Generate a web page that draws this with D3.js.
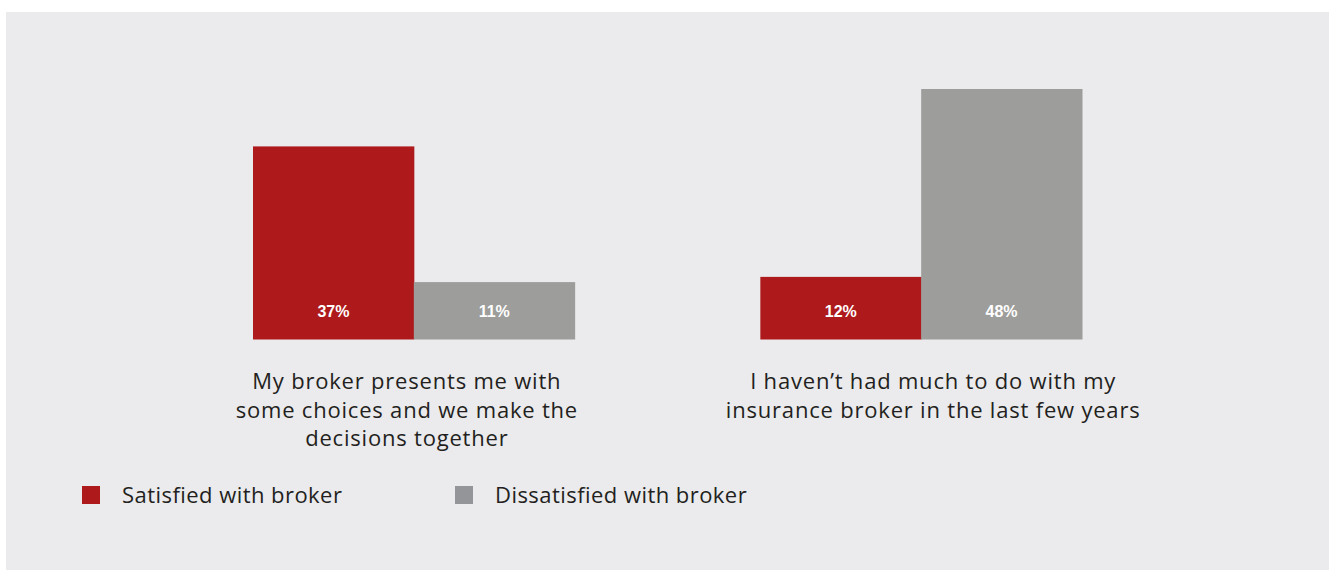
<!DOCTYPE html>
<html>
<head>
<meta charset="utf-8">
<script src="https://cdn.jsdelivr.net/npm/d3@7"></script>
<style>
  html, body { margin: 0; padding: 0; background: #ffffff; }
  svg { display: block; }
</style>
</head>
<body>
<svg id="chart" width="1332" height="570"></svg>
<script>
// Survey statements and the share of each respondent group agreeing
const categories = [
  ["My broker presents me with", "some choices and we make the", "decisions together"],
  ["I haven\u2019t had much to do with my", "insurance broker in the last few years"]
];
const seriesNames = ["Satisfied with broker", "Dissatisfied with broker"];
const satisfied = [37, 12];
const dissatisfied = [11, 48];
const colors = ["#ae191b", "#9d9d9b"];
const legendColors = ["#ae191b", "#939598"];

const svg = d3.select("#chart");
const textFont = "'Open Sans', Lato, sans-serif";

// panel background
svg.append("rect")
  .attr("x", 6).attr("y", 12)
  .attr("width", 1323).attr("height", 558)
  .attr("fill", "#ebebed");

const groupKeys = categories.map((c, i) => i);
const x0 = d3.scaleBand()
  .domain(groupKeys)
  .range([253, 1082])
  .paddingInner(0.366)
  .paddingOuter(0);

const x1 = d3.scaleBand()
  .domain([0, 1])
  .range([0, x0.bandwidth()])
  .padding(0);

const y = d3.scaleLinear()
  .domain([0, 48])
  .range([339.5, 89]);

const rows = groupKeys.map(i => ({ group: i, values: [satisfied[i], dissatisfied[i]] }));

const groups = svg.selectAll("g.group")
  .data(rows)
  .join("g")
  .attr("class", "group")
  .attr("transform", d => `translate(${x0(d.group)},0)`);

groups.selectAll("rect")
  .data(d => d.values.map((v, s) => ({ v, s })))
  .join("rect")
  .attr("x", d => x1(d.s))
  .attr("y", d => y(d.v))
  .attr("width", x1.bandwidth() + 0.5)
  .attr("height", d => y(0) - y(d.v))
  .attr("fill", d => colors[d.s]);

groups.selectAll("text.value")
  .data(d => d.values.map((v, s) => ({ v, s })))
  .join("text")
  .attr("class", "value")
  .attr("x", d => x1(d.s) + x1.bandwidth() / 2)
  .attr("y", 316.5)
  .attr("text-anchor", "middle")
  .attr("fill", "#ffffff")
  .style("font-family", "'Liberation Sans', Arial, sans-serif")
  .style("font-weight", "bold")
  .style("font-size", "16px")
  .text(d => d.v + "%");

// category labels beneath each pair of bars (slightly shifted per group)
const labelShift = g => (g === 0 ? -7 : 12);
groups.append("text")
  .attr("class", "cat")
  .attr("text-anchor", "middle")
  .attr("fill", "#231f20")
  .style("font-family", textFont)
  .style("font-size", "22px")
  .style("letter-spacing", "0.8px")
  .selectAll("tspan")
  .data(d => categories[d.group].map(t => ({ t, g: d.group })))
  .join("tspan")
  .attr("x", d => x0.bandwidth() / 2 + labelShift(d.g))
  .attr("y", (d, i) => 389 + i * 28.5)
  .text(d => d.t);

// legend
const legendX = [82, 455];
const legend = svg.selectAll("g.legend")
  .data(seriesNames)
  .join("g")
  .attr("class", "legend")
  .attr("transform", (d, i) => `translate(${legendX[i]},486)`);

legend.append("rect")
  .attr("width", 18).attr("height", 18)
  .attr("fill", (d, i) => legendColors[i]);

legend.append("text")
  .attr("x", 40)
  .attr("y", 16.5)
  .attr("fill", "#231f20")
  .style("font-family", textFont)
  .style("font-size", "22px")
  .style("letter-spacing", "0.45px")
  .text(d => d);
</script>
</body>
</html>
